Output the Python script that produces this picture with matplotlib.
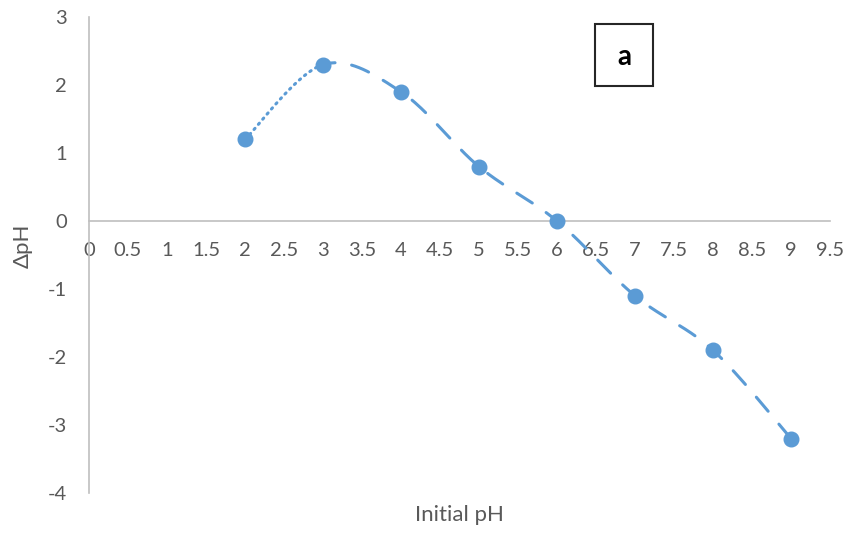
import numpy as np
import matplotlib.pyplot as plt
from matplotlib.patches import Rectangle

initial_ph = [2, 3, 4, 5, 6, 7, 8, 9]
delta_ph = [1.2, 2.3, 1.9, 0.8, 0.0, -1.1, -1.9, -3.2]
x_ticks = [0, 0.5, 1, 1.5, 2, 2.5, 3, 3.5, 4, 4.5, 5, 5.5, 6, 6.5, 7, 7.5, 8, 8.5, 9, 9.5]
x_tick_labels = ['0', '0.5', '1', '1.5', '2', '2.5', '3', '3.5', '4', '4.5', '5',
                 '5.5', '6', '6.5', '7', '7.5', '8', '8.5', '9', '9.5']
y_ticks = [-4, -3, -2, -1, 0, 1, 2, 3]

blue = '#5B9BD5'
grey = '#BFBFBF'
txt = '#595959'

plt.rcParams['font.family'] = ['Lato', 'DejaVu Sans']
plt.rcParams['axes.unicode_minus'] = False


def smooth(xs, ys, n=40):
    # excel-like smoothed line (cardinal spline through the points)
    xs = np.asarray(xs, float)
    ys = np.asarray(ys, float)
    px = np.concatenate([[xs[0]], xs, [xs[-1]]])
    py = np.concatenate([[ys[0]], ys, [ys[-1]]])
    segs = []
    for i in range(1, len(px) - 2):
        t = np.linspace(0, 1, n)
        p0, p1, p2, p3 = (np.array([px[j], py[j]]) for j in range(i - 1, i + 3))
        c1 = p1 + (p2 - p0) / 6
        c2 = p2 - (p3 - p1) / 6
        pts = ((1 - t) ** 3)[:, None] * p1 + (3 * (1 - t) ** 2 * t)[:, None] * c1 \
            + (3 * (1 - t) * t ** 2)[:, None] * c2 + (t ** 3)[:, None] * p2
        segs.append(pts)
    return segs


fig = plt.figure(figsize=(8.5, 5.36), dpi=100)
ax = fig.add_axes([0.1047, 0.0802, 0.8718, 0.888])

segs = smooth(initial_ph, delta_ph)
ax.plot(segs[0][:, 0], segs[0][:, 1], color=blue, lw=2.2, ls=(0, (0.5, 1.7)),
        dash_capstyle='round', zorder=2)
rest = np.vstack(segs[1:])
ax.plot(rest[:, 0], rest[:, 1], color=blue, lw=2.2, ls=(2, (6, 5.5)),
        dash_capstyle='round', zorder=2)
ax.plot(initial_ph, delta_ph, 'o', color=blue, ms=10.5, zorder=3)

ax.set_xlim(0, 9.5)
ax.set_ylim(-4, 3)
ax.set_xticks(x_ticks)
ax.set_xticklabels(x_tick_labels)
ax.set_yticks(y_ticks)

ax.spines['top'].set_visible(False)
ax.spines['right'].set_visible(False)
ax.spines['bottom'].set_position(('data', 0))
ax.spines['bottom'].set_color(grey)
ax.spines['left'].set_color(grey)
ax.spines['bottom'].set_linewidth(1.2)
ax.spines['left'].set_linewidth(1.2)
ax.tick_params(axis='x', length=0, pad=15, labelsize=14.5, labelcolor=txt)
ax.tick_params(axis='y', length=0, pad=16, labelsize=14.5, labelcolor=txt)

ax.set_xlabel('Initial pH', fontsize=16, color=txt)
ax.xaxis.set_label_coords(0.5, -0.025)
ax.set_ylabel('ΔpH', fontsize=16, color=txt)
ax.yaxis.set_label_coords(-0.076, 0.52)

fig.patches.append(Rectangle((595 / 850, 1 - 86 / 536), 58 / 850, 62 / 536,
                             transform=fig.transFigure, fill=False,
                             edgecolor='#262626', lw=1.5))
fig.text(624 / 850, 1 - 57 / 536, 'a', fontsize=20, fontweight='bold',
         ha='center', va='center', color='black')

fig.savefig('out.png', dpi=100)
